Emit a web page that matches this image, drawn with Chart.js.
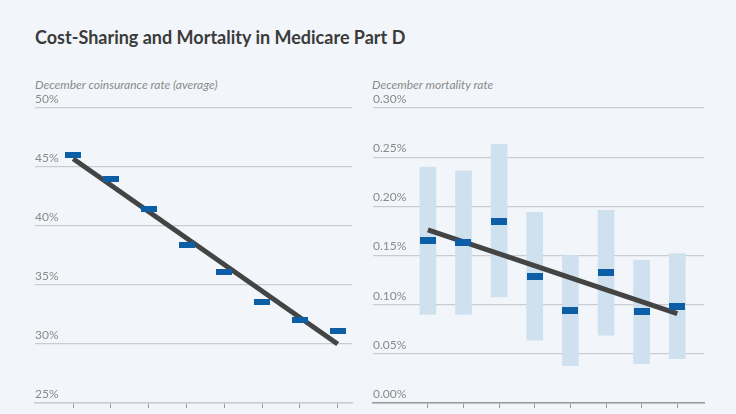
<!DOCTYPE html>
<html>
<head>
<meta charset="utf-8">
<script src="https://cdn.jsdelivr.net/npm/chart.js@4"></script>
<style>
  html, body { margin: 0; padding: 0; background: #f2f6fa; overflow: hidden; }
  body { width: 736px; height: 414px; position: relative; font-family: Lato, "Open Sans", sans-serif; }
  .title { position: absolute; left: 35px; top: 26px; font-size: 18px; font-weight: 700; color: #3b3b3b; white-space: nowrap; }
  .axis-title { position: absolute; top: 77px; font-size: 12px; font-style: italic; color: #8a8a8a; white-space: nowrap; }
  canvas { position: absolute; top: 0; }
</style>
</head>
<body>
<div class="title">Cost-Sharing and Mortality in Medicare Part D</div>
<div class="axis-title" style="left:35px">December coinsurance rate (average)</div>
<div class="axis-title" style="left:372px">December mortality rate</div>
<canvas id="left" width="368" height="414" style="left:0"></canvas>
<canvas id="right" width="368" height="414" style="left:368px"></canvas>
<script>
// categories (x positions 1..8)
const positions = [1, 2, 3, 4, 5, 6, 7, 8];

// left panel: average December coinsurance rate, %
const coinsurance = [46.0, 44.0, 41.4, 38.4, 36.1, 33.6, 32.0, 31.1];
const coinsuranceFit = [45.7, 30.0]; // fitted line at first and last position
const coinsuranceTicks = [25, 30, 35, 40, 45, 50];

// right panel: December mortality rate, %
const mortality = [0.165, 0.163, 0.185, 0.129, 0.094, 0.133, 0.093, 0.098];
const mortalityLow = [0.090, 0.090, 0.108, 0.064, 0.038, 0.069, 0.040, 0.045];
const mortalityHigh = [0.240, 0.236, 0.263, 0.194, 0.150, 0.196, 0.145, 0.152];
const mortalityFit = [0.176, 0.091];
const mortalityTicks = [0, 0.05, 0.10, 0.15, 0.20, 0.25, 0.30];

const BLUE = "#0c5ea6";
const LIGHT = "#cfe0ef";
const LINE = "#444444";
const GRID = "#c9ccd1";
const TEXT = "#8a8a8a";

function marker(w, h) {
  const c = document.createElement("canvas");
  c.width = w;
  c.height = h;
  const g = c.getContext("2d");
  g.fillStyle = BLUE;
  g.fillRect(0, 0, w, h);
  return c;
}

function yScale(min, max, step, fmt) {
  return {
    min: min,
    max: max,
    border: { display: false },
    grid: { color: GRID, lineWidth: 1.2, drawTicks: false },
    ticks: {
      stepSize: step,
      mirror: true,
      padding: 0,
      labelOffset: -9,
      color: TEXT,
      font: { family: "Lato", size: 12 },
      callback: fmt
    }
  };
}

function xScale(min, max, borderColor) {
  return {
    type: "linear",
    offset: false,
    min: min,
    max: max,
    afterBuildTicks: (axis) => { axis.ticks = positions.map(v => ({ value: v })); },
    border: { display: true, color: borderColor, width: 1.5 },
    grid: { offset: false, drawOnChartArea: false, drawTicks: true, tickLength: 5, color: "#9a9a9a" },
    ticks: { display: false }
  };
}

const common = {
  responsive: false,
  animation: false,
  plugins: { legend: { display: false }, tooltip: { enabled: false } }
};

new Chart(document.getElementById("left"), {
  type: "scatter",
  data: {
    datasets: [
      {
        type: "scatter",
        data: positions.map((x, i) => ({ x: x, y: coinsurance[i] })),
        pointStyle: marker(16, 6),
        order: 0
      },
      {
        type: "line",
        data: [
          { x: positions[0], y: coinsuranceFit[0] },
          { x: positions[positions.length - 1], y: coinsuranceFit[1] }
        ],
        borderColor: LINE,
        borderWidth: 5,
        pointRadius: 0,
        order: 1
      }
    ]
  },
  options: Object.assign({}, common, {
    layout: { padding: { left: 35, right: 16, top: 108, bottom: 6 } },
    scales: {
      x: xScale(-0.01, 8.38, GRID),
      y: yScale(coinsuranceTicks[0], coinsuranceTicks[coinsuranceTicks.length - 1], 5, v => v + "%")
    }
  })
});

new Chart(document.getElementById("right"), {
  type: "bar",
  data: {
    datasets: [
      {
        type: "scatter",
        data: positions.map((x, i) => ({ x: x, y: mortality[i] })),
        pointStyle: marker(16, 7),
        order: 0
      },
      {
        type: "line",
        data: [
          { x: positions[0], y: mortalityFit[0] },
          { x: positions[positions.length - 1], y: mortalityFit[1] }
        ],
        borderColor: LINE,
        borderWidth: 5,
        pointRadius: 0,
        order: 1
      },
      {
        type: "bar",
        data: positions.map((x, i) => ({ x: x, y: [mortalityLow[i], mortalityHigh[i]] })),
        backgroundColor: LIGHT,
        barThickness: 16,
        order: 2
      }
    ]
  },
  options: Object.assign({}, common, {
    layout: { padding: { left: 4, right: 32, top: 108, bottom: 6 } },
    scales: {
      x: xScale(-0.54, 8.75, "#9a9a9a"),
      y: yScale(mortalityTicks[0], mortalityTicks[mortalityTicks.length - 1], 0.05, v => v.toFixed(2) + "%")
    }
  })
});
</script>
</body>
</html>
